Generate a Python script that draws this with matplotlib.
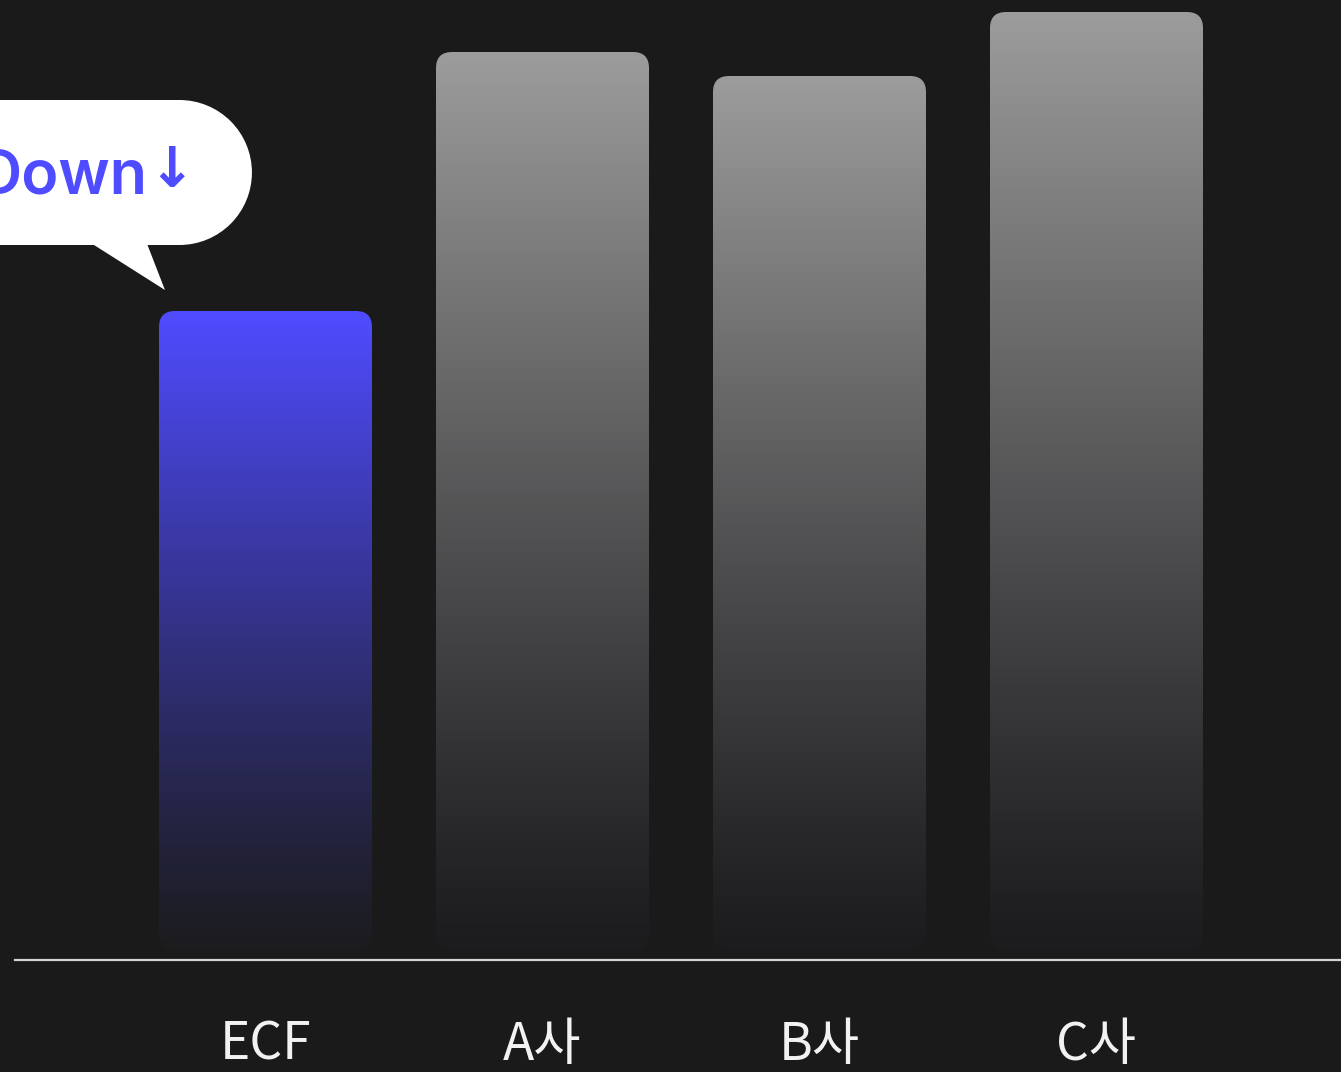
import numpy as np
import matplotlib.pyplot as plt
from matplotlib.patches import FancyBboxPatch, Polygon, Ellipse, Rectangle

# data
categories = ['ECF', 'A사', 'B사', 'C사']
values = [63.9, 89.8, 87.4, 93.8]
top_colors = ['#4f4cff', '#9c9c9c', '#9c9c9c', '#9c9c9c']
bottom_color = '#1c1c1f'
bg = '#1a1a1a'
callout_word = 'Down'
callout_arrow = '↓'

plt.rcParams['font.family'] = ['Noto Sans CJK KR', 'DejaVu Sans']

fig = plt.figure(figsize=(13.41, 10.72), dpi=100, facecolor=bg)
ax = fig.add_axes([0, 0, 1, 1])
ax.set_facecolor(bg)
ax.set_xlim(-0.9585, 3.8827)
ax.set_ylim(-12.2, 95.0)
ax.axis('off')

width = 0.769
asp = 27.7  # y-units per x-unit, keeps corners round
x = np.arange(len(categories))

def hex2rgb(h):
    h = h.lstrip('#')
    return np.array([int(h[i:i+2], 16) for i in (0, 2, 4)]) / 255.0

for xi, v, tc in zip(x, values, top_colors):
    patch = FancyBboxPatch((xi - width/2, 0), width, v,
                           boxstyle='round,pad=0,rounding_size=0.058',
                           mutation_aspect=asp, facecolor='none', edgecolor='none')
    ax.add_patch(patch)
    t = np.linspace(1, 0, 256)[:, None]  # top -> bottom
    c0, c1 = hex2rgb(tc), hex2rgb(bottom_color)
    grad = c1 + (c0 - c1) * (t ** 1.15)[..., None]
    grad = np.repeat(grad, 2, axis=1)
    im = ax.imshow(grad, extent=[xi - width/2, xi + width/2, 0, v],
                   aspect='auto', origin='upper', zorder=2, interpolation='bilinear')
    im.set_clip_path(patch)
    ax.text(xi, -9.5, categories[xi], ha='center', va='center',
            color='#f2f2f2', fontsize=37)

# baseline
ax.axhline(-1.0, xmin=15/1341, xmax=1, color='#d4d4d4', lw=1.6, zorder=3)

# callout bubble: rounded pill (rect + half circle ends) and a tail
b_right, b_bot, b_h = -0.049, 70.5, 14.5
r_x = b_h / 2 / asp
ax.add_patch(Rectangle((-1.3, b_bot), (b_right - r_x) + 1.3, b_h,
                       facecolor='white', edgecolor='none', zorder=4))
ax.add_patch(Ellipse((b_right - r_x, b_bot + b_h/2), 2*r_x, b_h,
                     facecolor='white', edgecolor='none', zorder=4))
tail = Polygon([(-0.676, 71.5), (-0.44, 71.5), (-0.363, 66.0)], closed=True,
               facecolor='white', edgecolor='none', zorder=4)
ax.add_patch(tail)
ax.text(-0.427, 77.3, callout_word, ha='right', va='center', color='#4f4cff',
        fontsize=44, fontweight='semibold', family=['Inter', 'DejaVu Sans'], zorder=5)
ax.text(-0.338, 77.8, callout_arrow, ha='center', va='center', color='#4f4cff',
        fontsize=40, fontweight='bold', family=['DejaVu Sans'], zorder=5)

fig.savefig('out.png', dpi=100, facecolor=bg)
